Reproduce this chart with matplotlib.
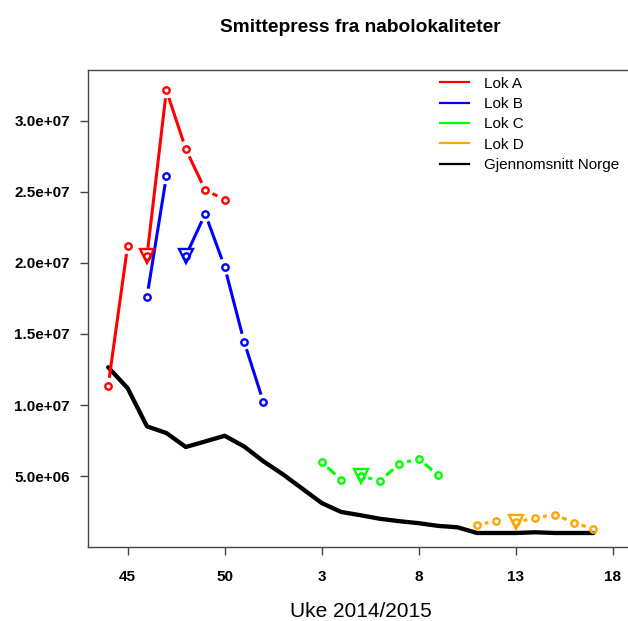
import matplotlib
matplotlib.use("Agg")
import matplotlib.pyplot as plt
from matplotlib.lines import Line2D
import numpy as np

plt.rcParams['font.family'] = ['Liberation Sans', 'DejaVu Sans']

# uke-akse (posisjon = indeks i lista)
weeks = [44, 45, 46, 47, 48, 49, 50, 51, 52, 1, 2, 3, 4, 5, 6, 7, 8, 9,
         10, 11, 12, 13, 14, 15, 16, 17, 18]
tick_weeks = [45, 50, 3, 8, 13, 18]

# gjennomsnitt Norge, uke 44 -> 17
norge = [1.266e7, 1.119e7, 8.50e6, 8.03e6, 7.05e6, 7.44e6, 7.84e6, 7.09e6,
         6.04e6, 5.13e6, 4.12e6, 3.11e6, 2.48e6, 2.25e6, 2.00e6, 1.83e6,
         1.69e6, 1.50e6, 1.40e6, 1.00e6, 1.00e6, 1.00e6, 1.05e6, 1.00e6,
         1.00e6, 1.00e6]

lok_a_weeks = [44, 45, 46, 47, 48, 49, 50]
lok_a = [1.136e7, 2.119e7, 2.05e7, 3.214e7, 2.80e7, 2.512e7, 2.446e7]
lok_a_new = 46

lok_b_weeks = [46, 47, 48, 49, 50, 51, 52]
lok_b = [1.763e7, 2.61e7, 2.05e7, 2.345e7, 1.973e7, 1.447e7, 1.02e7]
lok_b_new = 48

lok_c_weeks = [3, 4, 5, 6, 7, 8, 9]
lok_c = [5.99e6, 4.75e6, 5.00e6, 4.68e6, 5.85e6, 6.23e6, 5.06e6]
lok_c_new = 5

lok_d_weeks = [11, 12, 13, 14, 15, 16, 17]
lok_d = [1.59e6, 1.83e6, 1.76e6, 2.06e6, 2.30e6, 1.73e6, 1.29e6]
lok_d_new = 13

ytick_vals = [5e6, 1e7, 1.5e7, 2e7, 2.5e7, 3e7]

DPI = 100
fig = plt.figure(figsize=(6.28, 6.21), dpi=DPI)
ax = fig.add_axes([88 / 628, 1 - 546.5 / 621, 545 / 628, (546.5 - 70) / 621])


def wpos(w):
    # uke 44..52 kommer foer 1..18 i lista
    return weeks.index(w, 9 if w < 44 else 0)


ax.set_xlim(-1.04, 27.04)
ax.set_ylim(0.05e6, 3.357e7)

x_norge = np.arange(len(norge))
ax.plot(x_norge, norge, color="black", lw=3.1, solid_joinstyle="round",
        solid_capstyle="round", zorder=2)

GAP = 8.0  # piksler rundt hvert punkt (type="b")


def plot_b(wk, vals, new_wk, color):
    xs = np.array([wpos(w) for w in wk], dtype=float)
    ys = np.array(vals, dtype=float)
    pts = ax.transData.transform(np.column_stack([xs, ys]))
    inv = ax.transData.inverted()
    for i in range(len(xs) - 1):
        if wk[i + 1] == new_wk:
            continue
        p0, p1 = pts[i], pts[i + 1]
        d = p1 - p0
        L = np.hypot(*d)
        if L <= 2 * GAP:
            continue
        u = d / L
        seg = inv.transform(np.array([p0 + u * GAP, p1 - u * GAP]))
        ax.plot(seg[:, 0], seg[:, 1], color=color, lw=2.2,
                solid_capstyle="butt", zorder=3)
    ax.plot(xs, ys, ls="none", marker="o", ms=4.6, mew=1.7, mfc="none",
            mec=color, zorder=4)
    k = wk.index(new_wk)
    ax.plot(xs[k], ys[k], ls="none", marker="v", ms=9.5, mew=1.7,
            mfc="none", mec=color, zorder=4)


plot_b(lok_a_weeks, lok_a, lok_a_new, "#FF0000")
plot_b(lok_b_weeks, lok_b, lok_b_new, "#0000FF")
plot_b(lok_c_weeks, lok_c, lok_c_new, "#00FF00")
plot_b(lok_d_weeks, lok_d, lok_d_new, "#FFA500")

# akser
ax.set_xticks([wpos(w) for w in tick_weeks])
ax.set_xticklabels([str(w) for w in tick_weeks], fontweight="bold")
ax.set_yticks(ytick_vals)
ax.set_yticklabels(["%.1e" % v for v in ytick_vals], fontweight="bold")
ax.tick_params(axis="both", length=6, width=1, color="#444444",
               labelsize=11, labelcolor="black")
ax.tick_params(axis="x", pad=11)
ax.tick_params(axis="y", pad=7)
for s in ax.spines.values():
    s.set_color("#444444")
    s.set_linewidth(1)

ax.set_xlabel("Uke 2014/2015", fontsize=15, labelpad=13)
ax.set_title("Smittepress fra nabolokaliteter", fontsize=13.8,
             fontweight="bold", pad=27)

labels = ["Lok A", "Lok B", "Lok C", "Lok D", "Gjennomsnitt Norge"]
colors = ["#FF0000", "#0000FF", "#00FF00", "#FFA500", "black"]
handles = [Line2D([], [], color=c, lw=1.6) for c in colors]
fig.legend(handles, labels, loc="upper left",
           bbox_to_anchor=(440 / 628, 1 - 76.5 / 621), frameon=False,
           fontsize=11, handlelength=1.9, handletextpad=0.95,
           labelspacing=0.42, borderaxespad=0, borderpad=0)

fig.savefig("out.png", dpi=DPI, facecolor="white")
